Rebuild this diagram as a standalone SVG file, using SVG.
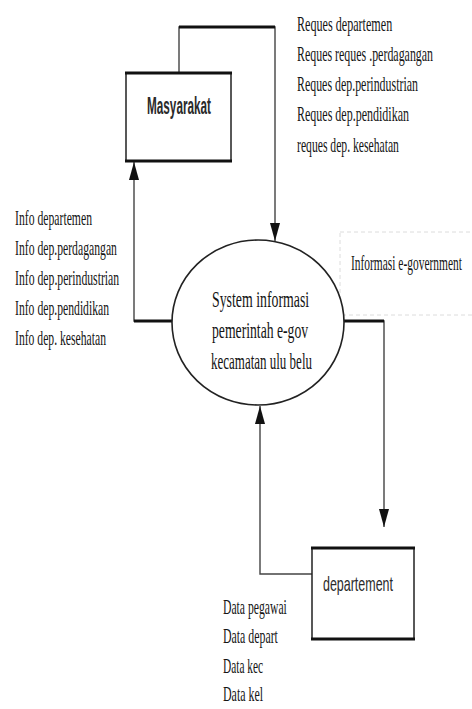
<svg xmlns="http://www.w3.org/2000/svg" width="472" height="709" viewBox="0 0 472 709">
  <style>
    .serif { font-family: "Liberation Serif", "Times New Roman", serif; font-size: 21px; fill: #151515; }
    .ctext { font-family: "Liberation Serif", "Times New Roman", serif; font-size: 24px; fill: #151515; }
    .sans { font-family: "Liberation Sans", Arial, sans-serif; fill: #2a2a2a; }
    .thin { fill: none; stroke: #444; stroke-width: 1.4; }
    .thick { fill: none; stroke: #111; stroke-width: 3; }
    .box { fill: #fff; stroke: #222; stroke-width: 1.5; }
  </style>
  <defs>
    <marker id="arr" viewBox="0 0 18 10" refX="18" refY="5" markerWidth="18" markerHeight="10" markerUnits="userSpaceOnUse" orient="auto">
      <path d="M0,0 L18,5 L0,10 z" fill="#111"/>
    </marker>
  </defs>
  <rect width="472" height="709" fill="#fff"/>

  <!-- faint text frame -->
  <rect x="340" y="232" width="140" height="83" fill="none" stroke="#dcdcdc" stroke-width="1" stroke-dasharray="4,3"/>

  <g id="connectors">
    <path class="thin" d="M179,72 V27 H275 V241" marker-end="url(#arr)"/>
    <line class="thick" x1="179" y1="27" x2="275" y2="27"/>
    <path class="thin" d="M173,321 H134 V162" marker-end="url(#arr)"/>
    <line class="thick" x1="134" y1="321" x2="173" y2="321"/>
    <path class="thin" d="M344,321 H384 V527" marker-end="url(#arr)"/>
    <line class="thick" x1="344" y1="321" x2="384" y2="321"/>
    <path class="thin" d="M312,574 H260 V406" marker-end="url(#arr)"/>
  </g>

  <g id="masyarakat">
    <rect class="box" x="126" y="73" width="105" height="88"/>
    <line class="thick" x1="125" y1="73" x2="232" y2="73"/>
    <line class="thick" x1="125" y1="161" x2="232" y2="161"/>
    <text class="sans" transform="translate(147,114) scale(0.51,1)" x="0" y="0" font-size="23" font-weight="bold" textLength="125.5" lengthAdjust="spacingAndGlyphs">Masyarakat</text>
  </g>

  <g id="process">
    <ellipse cx="258" cy="322.5" rx="86" ry="82.5" fill="#fff" stroke="#222" stroke-width="1.6"/>
    <text class="ctext" transform="translate(212,307) scale(0.54,1)" x="0" y="0" textLength="180" lengthAdjust="spacingAndGlyphs">System informasi</text>
    <text class="ctext" transform="translate(212,338) scale(0.54,1)" x="0" y="0" textLength="178" lengthAdjust="spacingAndGlyphs">pemerintah e-gov</text>
    <text class="ctext" transform="translate(211,369) scale(0.54,1)" x="0" y="0" textLength="187" lengthAdjust="spacingAndGlyphs">kecamatan ulu belu</text>
  </g>

  <g id="departement">
    <rect class="box" x="312" y="548" width="102" height="91"/>
    <line class="thick" x1="311" y1="548" x2="415" y2="548"/>
    <line class="thick" x1="311" y1="639" x2="415" y2="639"/>
    <text class="sans" transform="translate(323,591) scale(0.593,1)" x="0" y="0" font-size="21" textLength="118" lengthAdjust="spacingAndGlyphs">departement</text>
  </g>

  <g id="labels-request" transform="translate(297,0) scale(0.56,1)">
    <text class="serif" x="0" y="31" textLength="170" lengthAdjust="spacingAndGlyphs">Reques  departemen</text>
    <text class="serif" x="0" y="61" textLength="243" lengthAdjust="spacingAndGlyphs">Reques  reques .perdagangan</text>
    <text class="serif" x="0" y="91" textLength="216" lengthAdjust="spacingAndGlyphs">Reques  dep.perindustrian</text>
    <text class="serif" x="0" y="121" textLength="200" lengthAdjust="spacingAndGlyphs">Reques  dep.pendidikan</text>
    <text class="serif" x="0" y="152" textLength="182" lengthAdjust="spacingAndGlyphs">reques dep. kesehatan</text>
  </g>

  <g id="labels-info" transform="translate(15,0) scale(0.56,1)">
    <text class="serif" x="0" y="225" textLength="137.5" lengthAdjust="spacingAndGlyphs">Info departemen</text>
    <text class="serif" x="0" y="255" textLength="182" lengthAdjust="spacingAndGlyphs">Info dep.perdagangan</text>
    <text class="serif" x="0" y="285" textLength="186" lengthAdjust="spacingAndGlyphs">Info dep.perindustrian</text>
    <text class="serif" x="0" y="315" textLength="168" lengthAdjust="spacingAndGlyphs">Info dep.pendidikan</text>
    <text class="serif" x="0" y="345" textLength="162.5" lengthAdjust="spacingAndGlyphs">Info dep. kesehatan</text>
  </g>

  <g id="label-egov" transform="translate(351,0) scale(0.56,1)">
    <text class="serif" x="0" y="270" textLength="198" lengthAdjust="spacingAndGlyphs">Informasi e-government</text>
  </g>

  <g id="labels-data" transform="translate(223,0) scale(0.56,1)">
    <text class="serif" x="0" y="614" textLength="114" lengthAdjust="spacingAndGlyphs">Data pegawai</text>
    <text class="serif" x="0" y="643" textLength="98" lengthAdjust="spacingAndGlyphs">Data depart</text>
    <text class="serif" x="0" y="673" textLength="71.5" lengthAdjust="spacingAndGlyphs">Data kec</text>
    <text class="serif" x="0" y="701" textLength="71.5" lengthAdjust="spacingAndGlyphs">Data kel</text>
  </g>
</svg>
